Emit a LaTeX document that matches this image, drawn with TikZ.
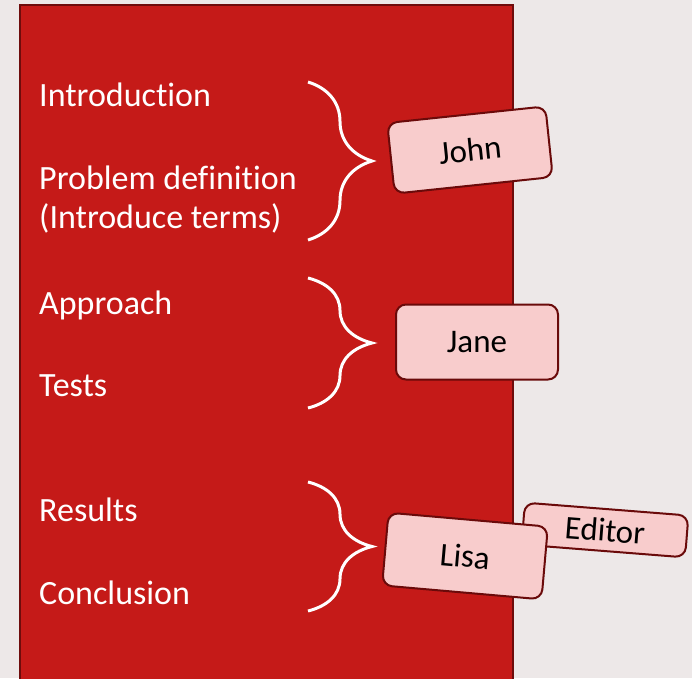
\documentclass[tikz,border=0pt]{standalone}
\usepackage{fontspec}
\setmainfont{Carlito}[Ligatures=NoCommon]
\usetikzlibrary{decorations.pathreplacing,positioning}
\definecolor{PageGrey}{HTML}{EDE8E8}
\definecolor{SlideRed}{HTML}{C51A18}
\definecolor{RimRed}{HTML}{6E0C0C}
\definecolor{BoxPink}{HTML}{F8CCCC}
\definecolor{BoxRim}{HTML}{6A0A0A}

\begin{document}
\begin{tikzpicture}[x=1pt,y=-1pt,
    topic/.style={anchor=base west,text=white,inner sep=0pt,align=left,
      font=\fontsize{34}{37}\selectfont},
    namebox/.style={draw=BoxRim,fill=BoxPink,line width=2pt,rounded corners=10pt,
      inner sep=0pt,minimum width=160pt,minimum height=73pt,
      font=\fontsize{33}{36}\selectfont},
    bracket/.style={draw=white,line width=3pt,decorate,decoration={brace,amplitude=64pt}}]
    \clip (0,0) rectangle (692,678);
    \fill[PageGrey] (0,0) rectangle (692,678);
    \draw[draw=RimRed,fill=SlideRed,line width=2.2pt] (20,5) rectangle (513,700);
    % topics
    \node[topic] (intro) at (39,106) {Introduction};
    \node[topic] (probdef) at (39,189) {Problem definition};
    \node[topic] (terms) at (39,228) {(Introduce terms)};
    \node[topic] (approach) at (39,314) {Approach};
    \node[topic] (tests) at (39,396) {Tests};
    \node[topic] (results) at (39,521) {Results};
    \node[topic] (concl) at (39,604) {Conclusion};
    % braces
    \draw[bracket] (308,82) -- (308,240);
    \draw[bracket] (308,278) -- (308,408);
    \draw[bracket] (308,482) -- (308,611);
    % names
    \node[namebox,rotate=6,minimum width=159pt,minimum height=71pt] (john) at (470,150) {John};
    \node[namebox,minimum width=162pt,minimum height=75pt] (jane) at (477,342) {Jane};
    \node[namebox,rotate=-4.5,minimum width=164pt,minimum height=42pt] (editor) at (605,530) {Editor};
    \node[namebox,rotate=-5] (lisa) at (465,556) {Lisa};
\end{tikzpicture}
\end{document}
